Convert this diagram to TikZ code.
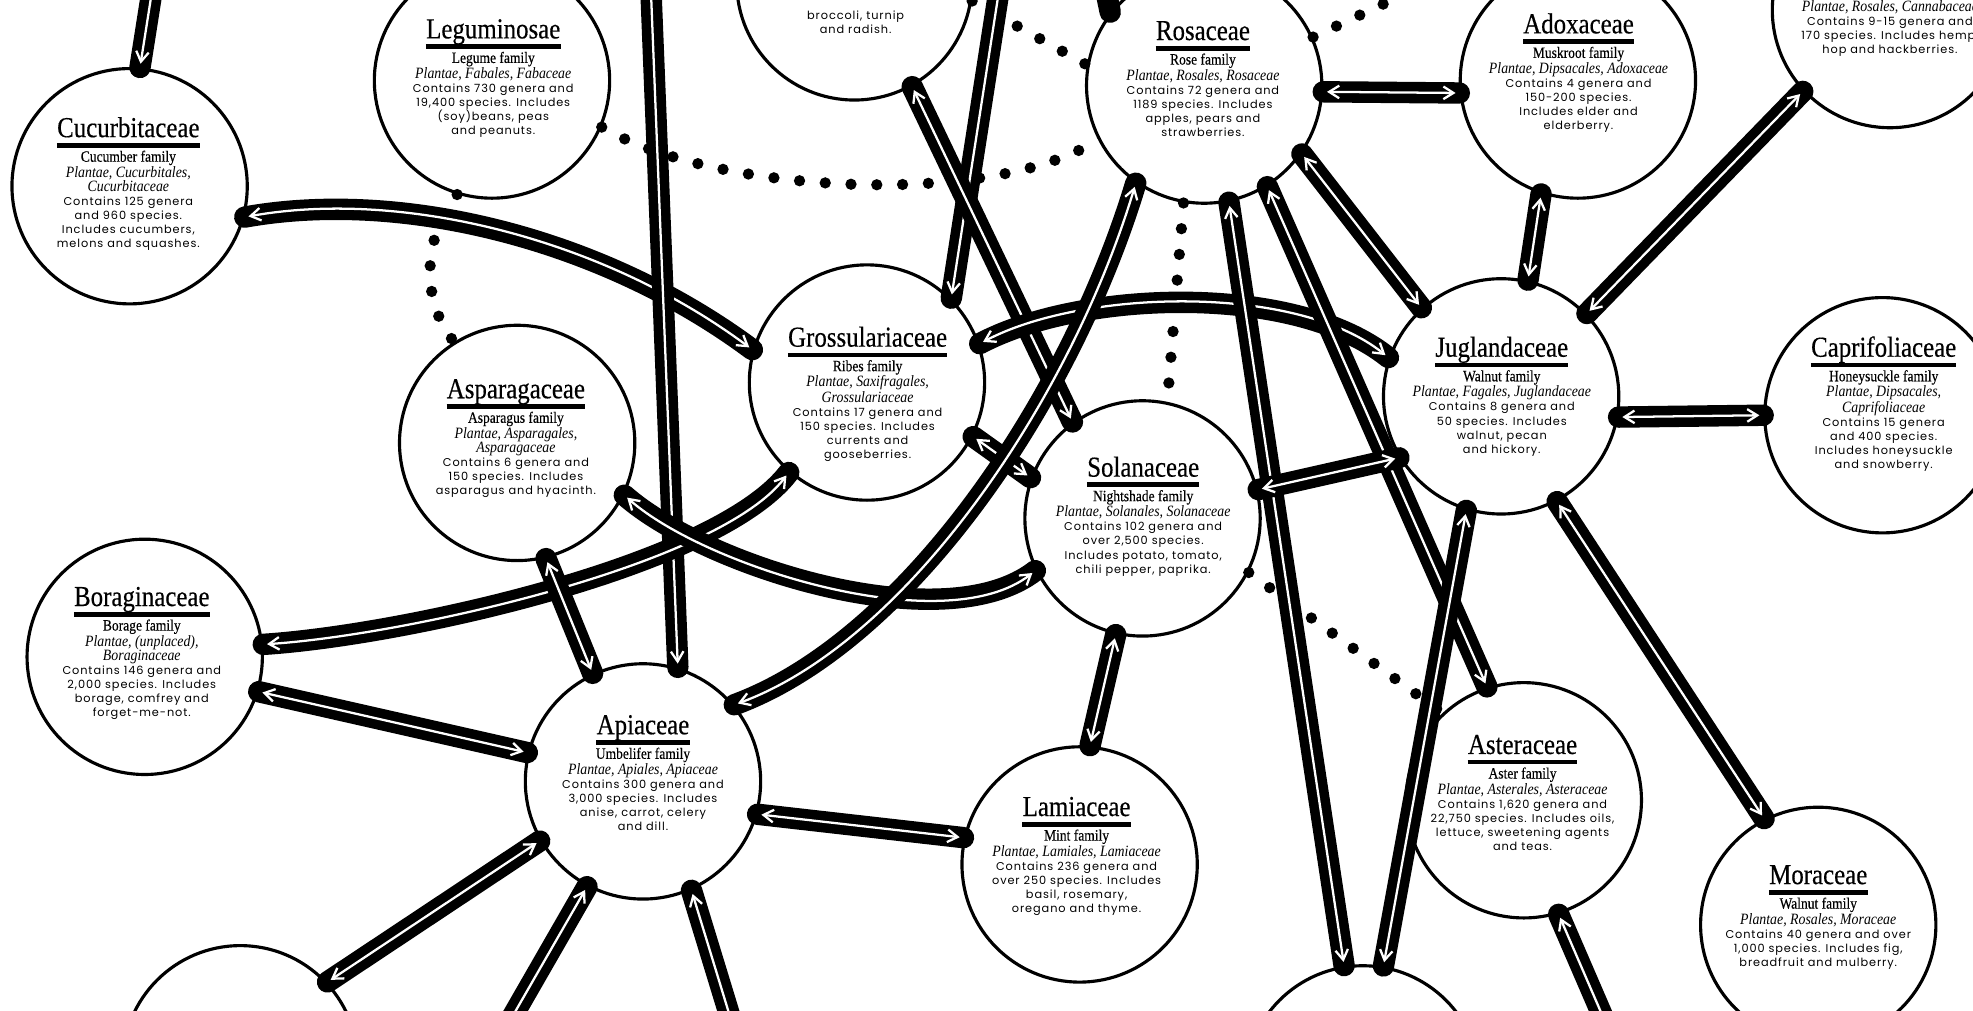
\documentclass[tikz,border=0pt]{standalone}
\usepackage{fontspec}
\usetikzlibrary{arrows.meta}
\newfontfamily\ttlserif[FakeStretch=0.86,FakeBold=0.4]{Liberation Serif}
\newfontfamily\subserif[FakeStretch=0.86,FakeBold=0.3]{Liberation Serif}
\newfontfamily\taxserif[FakeStretch=0.88]{Liberation Serif}
\newfontfamily\bodysans[LetterSpace=8]{Poppins}
\newcommand{\ttlfont}{\ttlserif\fontsize{23}{24}\selectfont}
\newcommand{\subfont}{\subserif\fontsize{12.5}{11.2}\selectfont}
\newcommand{\taxfont}{\taxserif\itshape\fontsize{12.5}{11.2}\selectfont}
\newcommand{\bodyfont}{\bodysans\fontsize{9}{11.2}\selectfont}
% family text: name, x, baseline of title, title, lines below
\newcommand{\famtext}[5]{%
  \node[famttl] (#1-t) at (#2,#3) {#4};
  \draw[famrule] ([yshift=-6.5pt]#1-t.base west) -- ([yshift=-6.5pt]#1-t.base east);
  \node[fambody] (#1-b) at ([yshift=-10.5pt]#1-t.base) {#5};
}

\begin{document}
\begin{tikzpicture}[x=1pt,y=-1pt,>={Straight Barb[length=8pt,width=10pt]},
    famcircle/.style={circle,draw,line width=2.5pt,fill=white,minimum size=187pt,inner sep=0pt},
    famttl/.style={font=\ttlfont,inner sep=0pt,anchor=base},
    fambody/.style={font=\bodyfont,align=center,inner sep=0pt,anchor=north},
    famrule/.style={line width=3.7pt},
    conn/.style={white,line width=1.8pt,shorten <=3pt,shorten >=3pt,
      preaction={draw=black,line width=17pt,line cap=round,-,shorten <=0pt,shorten >=0pt}},
    connplain/.style={black,line width=17pt,line cap=round},
    dotline/.style={line width=9pt,line cap=round,dash pattern=on 0pt off 20.5pt}]
    \useasboundingbox (0,0) rectangle (1568,803);
    \clip (0,0) rectangle (1568,803);

    % circles
    \node[famcircle] (cuc) at (103,148) {};
    \node[famcircle] (leg) at (391,64) {};
    \node[famcircle] (bra) at (679,-14) {};
    \node[famcircle] (ros) at (957,68) {};
    \node[famcircle] (ado) at (1254,64) {};
    \node[famcircle] (can) at (1502,8) {};
    \node[famcircle] (gro) at (689,304) {};
    \node[famcircle] (asp) at (411,352) {};
    \node[famcircle] (sol) at (908,412) {};
    \node[famcircle] (jug) at (1193,315) {};
    \node[famcircle] (cap) at (1496,330) {};
    \node[famcircle] (bor) at (115,522) {};
    \node[famcircle] (api) at (511,621) {};
    \node[famcircle] (lam) at (858,687) {};
    \node[famcircle] (ast) at (1211,636) {};
    \node[famcircle] (mor) at (1445,735) {};
    \node[famcircle] (ran) at (191,845) {};
    \node[famcircle] (bot) at (1083,861) {};

    % ends outside the frame
    \coordinate (offA) at (126,-40);
    \coordinate (offC) at (516,-40);
    \coordinate (offE) at (799,-40);
    \coordinate (offF) at (872,-40);
    \coordinate (offD) at (1170,-30);
    \coordinate (offU) at (383,850);
    \coordinate (offV) at (593,850);
    \coordinate (offW) at (1292,850);

    % dotted links
    \draw[dotline] (leg.-23) .. controls (570,155) and (790,165) .. (ros.-153);
    \draw[dotline] (bra.-9) -- (ros.170);
    \draw[dotline] (ros.24) -- (offD);
    \draw[dotline] (ros.-100) -- (sol.78);
    \draw[dotline] (leg.-107) .. controls (335,190) and (335,240) .. (asp.122);
    \draw[dotline] (sol.-27) -- (ast.133);

    % connectors
    \draw[conn,->] (offA) -- (cuc.85);
    \draw[conn,<->] (cuc.-15) .. controls (320,150) and (480,190) .. (gro.164);
    \draw[conn,->] (offC) -- (api.73);
    \draw[conn,->] (offE) -- (gro.45);
    \draw[conn,<->] (bra.-61) -- (sol.126);
    \draw[connplain] (offF) -- (ros.142);
    \draw[conn,<->] (ros.-3) -- (ado.186);
    \draw[conn,<->] (ado.-108) -- (jug.77);
    \draw[conn,<->] (can.-137) -- (jug.44);
    \draw[conn,<->] (jug.-10) -- (cap.180);
    \draw[conn,<->] (jug.-62) -- (mor.117);
    \draw[conn,<->] (ros.-35) -- (jug.132);
    \draw[conn,<->] (gro.19) .. controls (860,230) and (1030,225) .. (jug.161);
    \draw[conn,<->] (ros.-58) -- (ast.108);
    \draw[conn,<->] (jug.-107) -- (bot.80);
    \draw[conn,<->] (ros.-78) -- (bot.99);
    \draw[conn,<->] (sol.14) -- (jug.-149);
    \draw[conn,<->] (gro.-27) -- (sol.160);
    \draw[conn,<->] (bor.6) .. controls (320,505) and (570,450) .. (gro.-131);
    \draw[conn,<->] (asp.-26) .. controls (560,450) and (750,510) .. (sol.-154);
    \draw[conn,<->] (api.40) .. controls (720,510) and (850,320) .. (ros.-125);
    \draw[conn,<->] (asp.-76) -- (api.115);
    \draw[conn,<->] (bor.-17) -- (api.166);
    \draw[conn,<->] (api.-16) -- (lam.167);
    \draw[conn,<->] (sol.-103) -- (lam.85);
    \draw[conn,<->] (api.-150) -- (ran.43);
    \draw[conn,->] (offU) -- (api.-118);
    \draw[conn,->] (offV) -- (api.-66);
    \draw[conn,->] (offW) -- (ast.-73);

    % texts
    \famtext{cuc}{102}{109}{Cucurbitaceae}{{\subfont Cucumber family}\\{\taxfont Plantae, Cucurbitales,}\\{\taxfont Cucurbitaceae}\\Contains 125 genera\\and 960 species.\\Includes cucumbers,\\melons and squashes.}
    \famtext{leg}{392}{30.5}{Leguminosae}{{\subfont Legume family}\\{\taxfont Plantae, Fabales, Fabaceae}\\Contains 730 genera and\\19,400 species. Includes\\(soy)beans, peas\\and peanuts.}
    \famtext{ros}{956}{31.8}{Rosaceae}{{\subfont Rose family}\\{\taxfont Plantae, Rosales, Rosaceae}\\Contains 72 genera and\\1189 species. Includes\\apples, pears and\\strawberries.}
    \famtext{ado}{1254.5}{26.5}{Adoxaceae}{{\subfont Muskroot family}\\{\taxfont Plantae, Dipsacales, Adoxaceae}\\Contains 4 genera and\\150-200 species.\\Includes elder and\\elderberry.}
    \famtext{gro}{689.5}{275.5}{Grossulariaceae}{{\subfont Ribes family}\\{\taxfont Plantae, Saxifragales,}\\{\taxfont Grossulariaceae}\\Contains 17 genera and\\150 species. Includes\\currents and\\gooseberries.}
    \famtext{asp}{410}{316.5}{Asparagaceae}{{\subfont Asparagus family}\\{\taxfont Plantae, Asparagales,}\\{\taxfont Asparagaceae}\\Contains 6 genera and\\150 species. Includes\\asparagus and hyacinth.}
    \famtext{sol}{908.5}{378.8}{Solanaceae}{{\subfont Nightshade family}\\{\taxfont Plantae, Solanales, Solanaceae}\\Contains 102 genera and\\over 2,500 species.\\Includes potato, tomato,\\chili pepper, paprika.}
    \famtext{jug}{1193.5}{283.5}{Juglandaceae}{{\subfont Walnut family}\\{\taxfont Plantae, Fagales, Juglandaceae}\\Contains 8 genera and\\50 species. Includes\\walnut, pecan\\and hickory.}
    \famtext{cap}{1497}{283.5}{Caprifoliaceae}{{\subfont Honeysuckle family}\\{\taxfont Plantae, Dipsacales,}\\{\taxfont Caprifoliaceae}\\Contains 15 genera\\and 400 species.\\Includes honeysuckle\\and snowberry.}
    \famtext{bor}{112.7}{481.6}{Boraginaceae}{{\subfont Borage family}\\{\taxfont Plantae, (unplaced),}\\{\taxfont Boraginaceae}\\Contains 146 genera and\\2,000 species. Includes\\borage, comfrey and\\forget-me-not.}
    \famtext{api}{511}{583.5}{Apiaceae}{{\subfont Umbelifer family}\\{\taxfont Plantae, Apiales, Apiaceae}\\Contains 300 genera and\\3,000 species. Includes\\anise, carrot, celery\\and dill.}
    \famtext{lam}{855.6}{648.5}{Lamiaceae}{{\subfont Mint family}\\{\taxfont Plantae, Lamiales, Lamiaceae}\\Contains 236 genera and\\over 250 species. Includes\\basil, rosemary,\\oregano and thyme.}
    \famtext{ast}{1210}{599.2}{Asteraceae}{{\subfont Aster family}\\{\taxfont Plantae, Asterales, Asteraceae}\\Contains 1,620 genera and\\22,750 species. Includes oils,\\lettuce, sweetening agents\\and teas.}
    \famtext{mor}{1445}{702.6}{Moraceae}{{\subfont Walnut family}\\{\taxfont Plantae, Rosales, Moraceae}\\Contains 40 genera and over\\1,000 species. Includes fig,\\breadfruit and mulberry.}
    \node[fambody] (bra-b) at (680,8.3) {broccoli, turnip\\and radish.};
    \node[fambody] (can-b) at (1502,0) {{\taxfont Plantae, Rosales, Cannabaceae}\\Contains 9-15 genera and\\170 species. Includes hemp,\\hop and hackberries.};
\end{tikzpicture}
\end{document}
